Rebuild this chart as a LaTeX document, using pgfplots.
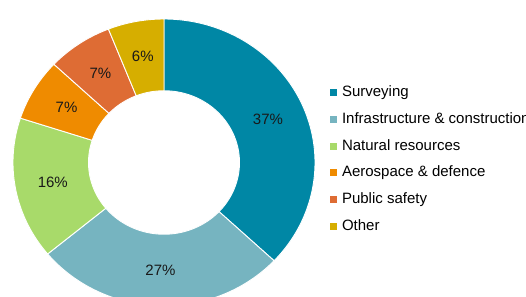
\documentclass[border=0pt]{standalone}
\usepackage{pgfplots}
\pgfplotsset{compat=1.18}
\usepackage{fontspec}
\setmainfont{Liberation Sans}
\definecolor{cSurv}{RGB}{0,135,165}
\definecolor{cInfra}{RGB}{118,180,192}
\definecolor{cNat}{RGB}{168,218,106}
\definecolor{cAero}{RGB}{239,139,0}
\definecolor{cPub}{RGB}{222,108,52}
\definecolor{cOth}{RGB}{214,174,0}
% shares (%)
\def\vA{37}\def\vB{27}\def\vC{16}\def\vD{7}\def\vE{7}\def\vF{6}
\pgfmathsetmacro\aA{90}
\pgfmathsetmacro\aB{\aA-3.6*\vA}
\pgfmathsetmacro\aC{\aB-3.6*\vB}
\pgfmathsetmacro\aD{\aC-3.6*\vC}
\pgfmathsetmacro\aE{\aD-3.6*\vD}
\pgfmathsetmacro\aF{\aE-3.6*\vE}
\pgfmathsetmacro\aG{\aF-3.6*\vF}
\newcommand\lab[3]{% start, end, text
  \pgfmathsetmacro\mid{((#1)+(#2))/2}%
  \pgfmathsetmacro\lx{0.75*cos(\mid)}%
  \pgfmathsetmacro\ly{0.75*sin(\mid)}%
  \edef\temp{\noexpand\node[font=\noexpand\fontsize{15bp}{18bp}\noexpand\selectfont, text=black!90] at (axis cs:\lx,\ly) {#3};}%
  \temp
}
\newcommand\slice[4]{% start, end, colour, legend
  \addplot[fill=#3, draw=white, line width=0.9bp, domain=0:2, samples=401, variable=\t]
   ({ifthenelse(\t<=1.0025,1,0.5)*cos(ifthenelse(\t<=1.0025,(#1)+((#2)-(#1))*min(\t,1),(#2)-((#2)-(#1))*max(\t-1.005,0)/0.995))},
    {ifthenelse(\t<=1.0025,1,0.5)*sin(ifthenelse(\t<=1.0025,(#1)+((#2)-(#1))*min(\t,1),(#2)-((#2)-(#1))*max(\t-1.005,0)/0.995))}) -- cycle;
  \addlegendentry{#4}
}
\begin{document}
\begin{tikzpicture}
\begin{axis}[
  at={(0,0)}, anchor=south west,
  width=526bp, height=297bp, scale only axis, hide axis,
  xmin=-1.0861, xmax=2.3974, ymin=-0.9373, ymax=1.1324,
  clip=true,
  legend image code/.code={\fill[#1, draw=none] (0bp,-3.5bp) rectangle (7bp,3.5bp);},
  legend cell align=left,
  legend style={at={(0.6274,0.7135)}, anchor=north west, draw=none, fill=none,
    inner sep=0pt, outer sep=0pt, row sep=11.6bp, column sep=5bp,
    font=\fontsize{15bp}{18bp}\selectfont,
    nodes={inner sep=0pt, text height=11.7bp, text depth=3.4bp}},
]
\slice{\aA}{\aB}{cSurv}{Surveying}
\slice{\aB}{\aC}{cInfra}{Infrastructure \& construction}
\slice{\aC}{\aD}{cNat}{Natural resources}
\slice{\aD}{\aE}{cAero}{Aerospace \& defence}
\slice{\aE}{\aF}{cPub}{Public safety}
\slice{\aF}{\aG}{cOth}{Other}
\lab{\aA}{\aB}{37\%}
\lab{\aB}{\aC}{27\%}
\lab{\aC}{\aD}{16\%}
\lab{\aD}{\aE}{7\%}
\lab{\aE}{\aF}{7\%}
\lab{\aF}{\aG}{6\%}
\end{axis}
\pgfresetboundingbox
\useasboundingbox (0,0) rectangle (526bp,297bp);
\end{tikzpicture}
\end{document}
